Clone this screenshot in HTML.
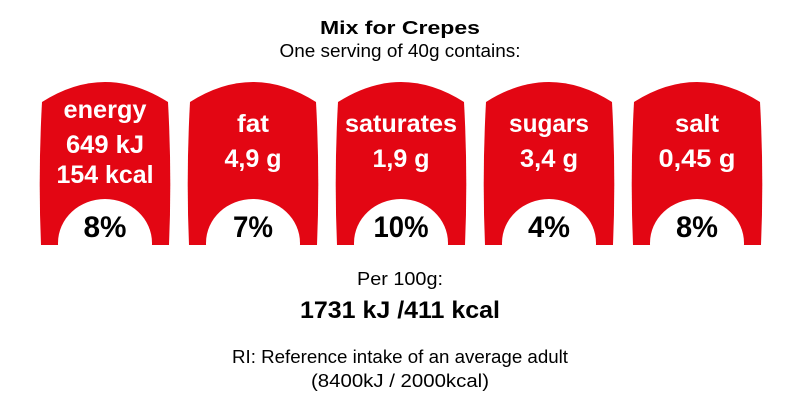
<!DOCTYPE html>
<html><head><style>body{margin:0;background:#fff}</style></head><body>
<svg width="800" height="413" viewBox="0 0 800 413" xmlns="http://www.w3.org/2000/svg" font-family="Liberation Sans, Arial, sans-serif">
<defs>
<path id="b" d="M0,27 Q63,-13 126,27 Q130,100 127,170 L-1,170 Q-4,100 0,27 Z"/>
<clipPath id="c"><use href="#b"/></clipPath>
</defs>
<text x="400" y="34" text-anchor="middle" font-size="18" font-weight="bold" textLength="160" lengthAdjust="spacingAndGlyphs">Mix for Crepes</text>
<text x="400" y="57" text-anchor="middle" font-size="18" textLength="241" lengthAdjust="spacingAndGlyphs">One serving of 40g contains:</text>
<g font-weight="bold" text-anchor="middle">
<g transform="translate(42,75)"><use href="#b" fill="#e30613"/><ellipse cx="63" cy="168" rx="47" ry="44" fill="#fff" clip-path="url(#c)"/>
<g fill="#fff" font-size="25"><text x="63" y="43" textLength="83" lengthAdjust="spacingAndGlyphs">energy</text><text x="63" y="78" textLength="78" lengthAdjust="spacingAndGlyphs">649 kJ</text><text x="63" y="108" textLength="97" lengthAdjust="spacingAndGlyphs">154 kcal</text></g><text x="63" y="162" font-size="30" textLength="43" lengthAdjust="spacingAndGlyphs">8%</text></g>
<g transform="translate(190,75)"><use href="#b" fill="#e30613"/><ellipse cx="63" cy="168" rx="47" ry="44" fill="#fff" clip-path="url(#c)"/>
<g fill="#fff" font-size="25"><text x="63" y="57" textLength="32" lengthAdjust="spacingAndGlyphs">fat</text><text x="63" y="92" textLength="57" lengthAdjust="spacingAndGlyphs">4,9 g</text></g><text x="63" y="162" font-size="30" textLength="40" lengthAdjust="spacingAndGlyphs">7%</text></g>
<g transform="translate(338,75)"><use href="#b" fill="#e30613"/><ellipse cx="63" cy="168" rx="47" ry="44" fill="#fff" clip-path="url(#c)"/>
<g fill="#fff" font-size="25"><text x="63" y="57" textLength="112" lengthAdjust="spacingAndGlyphs">saturates</text><text x="63" y="92" textLength="57" lengthAdjust="spacingAndGlyphs">1,9 g</text></g><text x="63" y="162" font-size="30" textLength="55" lengthAdjust="spacingAndGlyphs">10%</text></g>
<g transform="translate(486,75)"><use href="#b" fill="#e30613"/><ellipse cx="63" cy="168" rx="47" ry="44" fill="#fff" clip-path="url(#c)"/>
<g fill="#fff" font-size="25"><text x="63" y="57" textLength="80" lengthAdjust="spacingAndGlyphs">sugars</text><text x="63" y="92" textLength="58" lengthAdjust="spacingAndGlyphs">3,4 g</text></g><text x="63" y="162" font-size="30" textLength="42" lengthAdjust="spacingAndGlyphs">4%</text></g>
<g transform="translate(634,75)"><use href="#b" fill="#e30613"/><ellipse cx="63" cy="168" rx="47" ry="44" fill="#fff" clip-path="url(#c)"/>
<g fill="#fff" font-size="25"><text x="63" y="57" textLength="44" lengthAdjust="spacingAndGlyphs">salt</text><text x="63" y="92" textLength="77" lengthAdjust="spacingAndGlyphs">0,45 g</text></g><text x="63" y="162" font-size="30" textLength="42" lengthAdjust="spacingAndGlyphs">8%</text></g>
</g>
<text x="400" y="285" text-anchor="middle" font-size="18" textLength="86" lengthAdjust="spacingAndGlyphs">Per 100g:</text>
<text x="400" y="318" text-anchor="middle" font-size="24" font-weight="bold" textLength="200" lengthAdjust="spacingAndGlyphs">1731 kJ /411 kcal</text>
<text x="400" y="363" text-anchor="middle" font-size="18" textLength="336" lengthAdjust="spacingAndGlyphs">RI: Reference intake of an average adult</text>
<text x="400" y="387" text-anchor="middle" font-size="18" textLength="178" lengthAdjust="spacingAndGlyphs">(8400kJ / 2000kcal)</text>
</svg>
</body></html>
